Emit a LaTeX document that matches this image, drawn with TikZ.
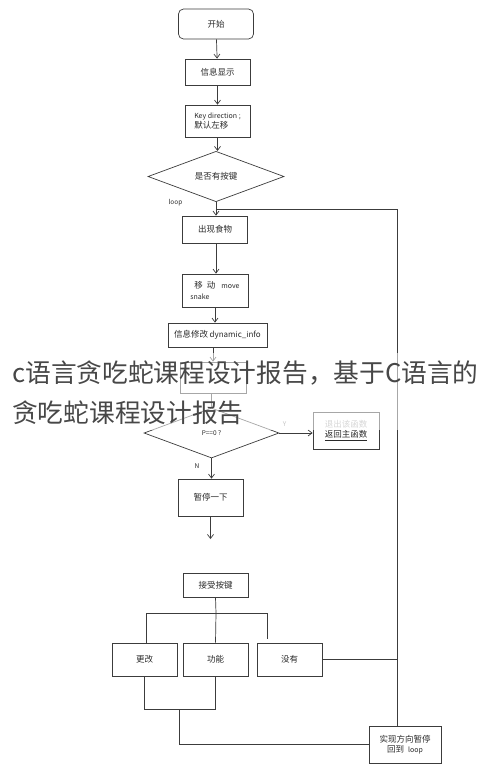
\documentclass[tikz,border=0pt]{standalone}
\usepackage{fontspec}
\setmainfont{Noto Sans CJK SC}
\usetikzlibrary{shapes.geometric,arrows.meta}
\definecolor{ln}{HTML}{3C3C3C}
\definecolor{tx}{HTML}{2A2A2A}
\tikzset{
  box/.style={draw=ln,line width=0.7pt,rectangle,inner sep=1pt,font=\fontsize{8.5}{10.5}\selectfont,text=tx,align=center},
  dia/.style={draw=ln,line width=0.7pt,diamond,inner sep=0pt,font=\fontsize{8.5}{10.5}\selectfont,text=tx},
  con/.style={draw=ln,line width=0.7pt},
  arr/.style={con,-{Straight Barb[length=4pt,width=6pt]}},
  lab/.style={font=\fontsize{6.5}{8}\selectfont,text=tx,inner sep=0pt},
}
\begin{document}
\begin{tikzpicture}[x=1pt,y=-1pt]
\useasboundingbox[fill=white] (0,0) rectangle (490,772);
% nodes
\node[box,rounded corners=5pt,minimum width=75pt,minimum height=30pt] (start) at (216,24) {开始};
\node[box,minimum width=65pt,minimum height=26pt] (info) at (217.5,72) {信息显示};
\node[box,minimum width=65pt,minimum height=32pt,align=left] (key) at (217.5,121) {\fontsize{7}{10}\selectfont Key direction ;\\{\fontsize{8.5}{10}\selectfont 默认左移}\hspace{10pt}};
\node[dia,minimum width=136pt,minimum height=41pt] (d1) at (216,176.5) {是否有按键};
\node[box,minimum width=65pt,minimum height=27pt] (food) at (215,229.5) {出现食物};
\node[box,minimum width=66pt,minimum height=33pt,align=left] (move) at (215,290.5) {\hspace{4pt}移\hspace{4pt}动\hspace{6pt}{\fontsize{7}{9}\selectfont move}\\{\fontsize{7}{9}\selectfont snake}\hspace{38pt}};
\node[box,minimum width=99pt,minimum height=24pt] (dyn) at (217.5,335) {信息修改\,{\fontsize{8}{10}\selectfont dynamic\_info}};
\node[box,minimum width=66pt,minimum height=31pt] (hid) at (213,377.5) {};
\node[dia,minimum width=135pt,minimum height=50pt] (d2) at (211.5,433) {\raisebox{-4pt}{\fontsize{6.5}{8}\selectfont P==0 ?}};
\node[box,minimum width=66pt,minimum height=37pt,align=left] (exit) at (346,430.5) {{\color{gray!70}退出该函数}\\\underline{返回主函数}};
\node[box,minimum width=65pt,minimum height=37pt] (pause) at (210.5,497.5) {暂停一下};
\coordinate (pend) at (210.5,539);
\node[box,minimum width=65pt,minimum height=24pt] (acc) at (215.5,585) {接受按键};
\node[box,minimum width=65pt,minimum height=33pt] (chg) at (144.5,659.5) {更改};
\node[box,minimum width=65pt,minimum height=33pt] (fun) at (215.5,659.5) {功能};
\node[box,minimum width=65pt,minimum height=33pt] (none) at (289.5,659.5) {没有};
\node[box,minimum width=72pt,minimum height=37pt] (fin) at (405,744.5) {实现方向暂停\\回到\hspace{4pt}{\fontsize{7}{9}\selectfont loop}};
% labels
\node[lab] (looplab) at (175.5,203) {loop};
\node[lab,text=gray] (ylab) at (284.5,424) {Y};
\node[lab] (nlab) at (197,466) {N};
% coordinates
\coordinate (vx) at (397.5,209);
\coordinate (lj) at (216,209);
\coordinate (sp) at (216,613);
\coordinate (hl) at (146,613);
\coordinate (hr) at (267,613);
\coordinate (hre) at (267,639);
\coordinate (bl) at (144.5,709);
\coordinate (br) at (215.5,709);
\coordinate (bm) at (179,709);
\coordinate (bmd) at (179,744.5);
% connectors
\draw[arr] (start) -- (info);
\draw[arr] (info) -- (key);
\draw[arr] (key.south) -- (key.south |- d1.north);
\draw[arr] (d1.south) -- (d1.south |- food.north);
\draw[con] (fin.north -| vx) -- (vx) -- (lj);
\draw[arr] (food.south -| 216,0) -- (move.north -| 216,0);
\draw[arr] (move.south) -- (move.south |- dyn.north);
\draw[arr] (dyn.south -| hid) -- (hid.north);
\draw[con] (hid.south -| d2) -- (d2.north);
\draw[arr] (d2.east) -- (exit.west |- d2.east);
\draw[arr] (d2.south) -- (d2.south |- pause.north);
\draw[arr] (pause.south) -- (pend);
\draw[con] (acc.south) -- (sp);
\draw[con] (hl) -- (hr);
\draw[con] (hl) -- (hl |- chg.north);
\draw[con] (sp) -- (fun.north);
\draw[con] (hr) -- (hre);
\draw[con] (none.east) -- (none.east -| vx);
\draw[con] (chg.south) -- (bl) -- (br) -- (fun.south);
\draw[con] (bm) -- (bmd) -- (fin.west);
% overlay
\fill[white,opacity=0.55] (0,353) rectangle (490,430);
\node[anchor=base west,inner sep=0pt,text=black!72,font=\fontsize{25.7}{30}\selectfont] (t1) at (12,382) {c语言贪吃蛇课程设计报告，基于C语言的};
\node[anchor=base west,inner sep=0pt,text=black!72,font=\fontsize{25.7}{30}\selectfont] (t2) at (12,422) {贪吃蛇课程设计报告};
\end{tikzpicture}
\end{document}
